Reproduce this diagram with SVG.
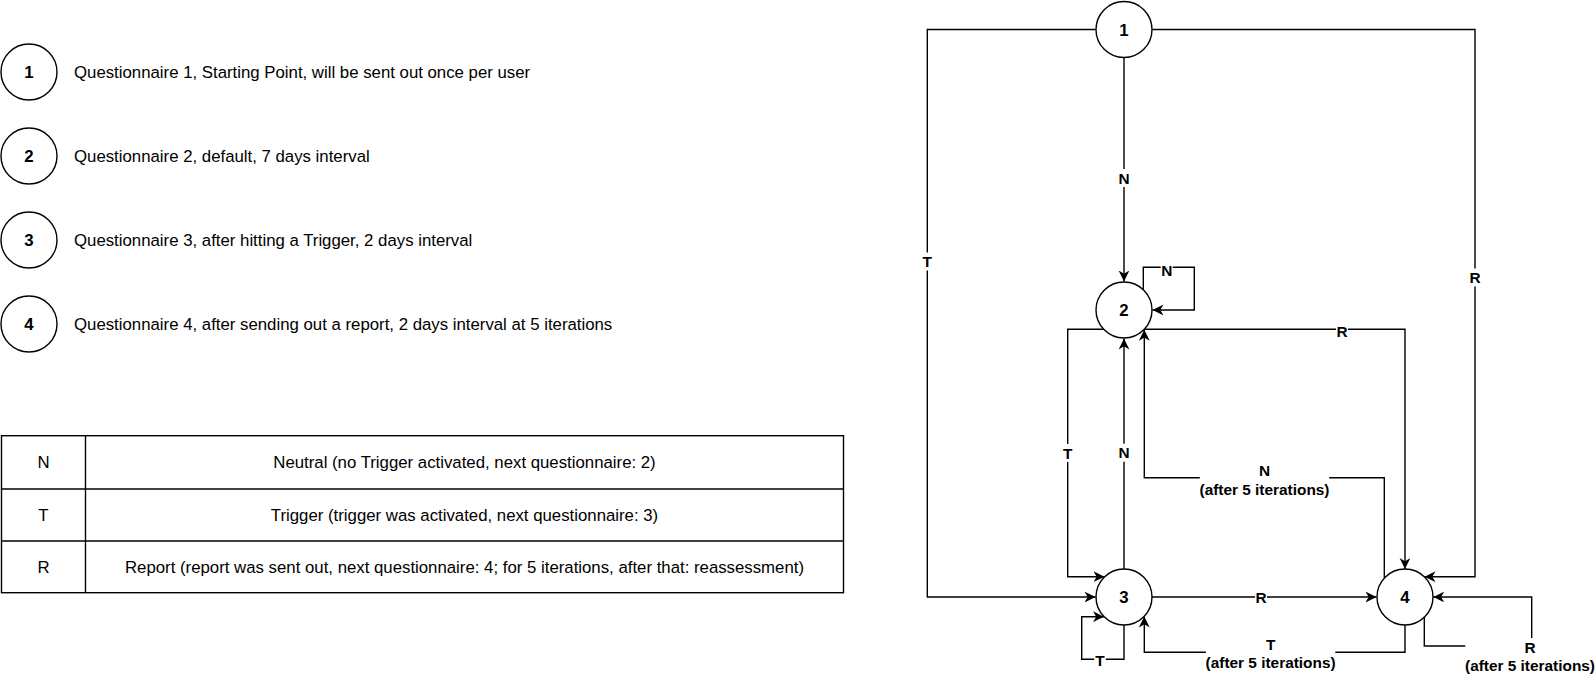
<svg xmlns="http://www.w3.org/2000/svg" width="1595" height="677" viewBox="0 0 1595 677">
<defs>
<style>
.bg{fill:#fff}
.node circle{fill:#fff;stroke:#000;stroke-width:1.4}
.nl{font-family:"Liberation Sans",Arial,Helvetica,sans-serif;font-weight:bold;font-size:16.8px;text-anchor:middle;fill:#000}
.lt{font-family:"Liberation Sans",Arial,Helvetica,sans-serif;font-size:16.8px;fill:#000}
.tc{text-anchor:middle}
.edges path{fill:none;stroke:#000;stroke-width:1.4}
.el{font-family:"Liberation Sans",Arial,Helvetica,sans-serif;font-weight:bold;font-size:15.4px;text-anchor:middle;fill:#000}
.tbl line,.tbl rect{fill:none;stroke:#000;stroke-width:1.4}
</style>
<marker id="arr" markerUnits="userSpaceOnUse" markerWidth="12" markerHeight="11" viewBox="0 0 12 11" refX="11" refY="5.4" orient="auto">
<path d="M0,0 L11,5.4 L0,10.8 L3.2,5.4 Z" fill="#000"/>
</marker>
</defs>
<rect width="1595" height="677" fill="#fff"/>

<!-- Legend -->
<g id="legend-1" class="node"><circle cx="29" cy="72" r="28"/><text class="nl" x="29" y="78">1</text><text class="lt" x="74" y="78">Questionnaire 1, Starting Point, will be sent out once per user</text></g>
<g id="legend-2" class="node"><circle cx="29" cy="156" r="28"/><text class="nl" x="29" y="162">2</text><text class="lt" x="74" y="162">Questionnaire 2, default, 7 days interval</text></g>
<g id="legend-3" class="node"><circle cx="29" cy="240" r="28"/><text class="nl" x="29" y="246">3</text><text class="lt" x="74" y="246">Questionnaire 3, after hitting a Trigger, 2 days interval</text></g>
<g id="legend-4" class="node"><circle cx="29" cy="324" r="28"/><text class="nl" x="29" y="330">4</text><text class="lt" x="74" y="330">Questionnaire 4, after sending out a report, 2 days interval at 5 iterations</text></g>

<!-- Table -->
<g id="table" class="tbl">
<rect x="1.5" y="435.7" width="842" height="157"/>
<line x1="1.5" y1="489" x2="843.5" y2="489"/>
<line x1="1.5" y1="541" x2="843.5" y2="541"/>
<line x1="85.5" y1="435.7" x2="85.5" y2="592.7"/>
<text class="lt tc" x="43.5" y="468.3">N</text>
<text class="lt tc" x="464.5" y="468.3">Neutral (no Trigger activated, next questionnaire: 2)</text>
<text class="lt tc" x="43.5" y="521">T</text>
<text class="lt tc" x="464.5" y="521">Trigger (trigger was activated, next questionnaire: 3)</text>
<text class="lt tc" x="43.5" y="573">R</text>
<text class="lt tc" x="464.5" y="573">Report (report was sent out, next questionnaire: 4; for 5 iterations, after that: reassessment)</text>
</g>

<!-- Connectors -->
<g id="connectors" class="edges">
<path d="M1124,57.5 V281.5" marker-end="url(#arr)"/>
<path d="M1095.5,29.5 H927.3 V597 H1095.5" marker-end="url(#arr)"/>
<path d="M1152.5,29.5 H1475 V576.7 H1424.5" marker-end="url(#arr)"/>
<path d="M1143.3,289.7 V267.3 H1194.3 V310 H1152.5" marker-end="url(#arr)"/>
<path d="M1103.7,329.3 H1067.7 V576.7 H1104.5" marker-end="url(#arr)"/>
<path d="M1144.3,329.3 H1405 V569" marker-end="url(#arr)"/>
<path d="M1124,569 V338.5" marker-end="url(#arr)"/>
<path d="M1152,597 H1376.5" marker-end="url(#arr)"/>
<path d="M1124,625 V659.3 H1081.7 V616.7 H1104" marker-end="url(#arr)"/>
<path d="M1384.3,577.8 V477.7 H1144.3 V329.8" marker-end="url(#arr)"/>
<path d="M1405,625 V652.3 H1144.3 V616.5" marker-end="url(#arr)"/>
<path d="M1424.3,616.5 V646 H1531.7 V597 H1433.3" marker-end="url(#arr)"/>

<rect class="bg" x="1118" y="169" width="12" height="18"/><text class="el" x="1124" y="183.5">N</text>
<rect class="bg" x="921.5" y="252.5" width="11.6" height="18"/><text class="el" x="927.3" y="267">T</text>
<rect class="bg" x="1469" y="268.5" width="12" height="18"/><text class="el" x="1475" y="283">R</text>
<rect class="bg" x="1160.7" y="261.7" width="12" height="18"/><text class="el" x="1166.7" y="276.2">N</text>
<rect class="bg" x="1061.9" y="444" width="11.6" height="18"/><text class="el" x="1067.7" y="458.5">T</text>
<rect class="bg" x="1336" y="322" width="12" height="18"/><text class="el" x="1342" y="336.5">R</text>
<rect class="bg" x="1118" y="443.7" width="12" height="18"/><text class="el" x="1124" y="458.2">N</text>
<rect class="bg" x="1255" y="588" width="12" height="18"/><text class="el" x="1261" y="602.5">R</text>
<rect class="bg" x="1094.2" y="651" width="11.6" height="18"/><text class="el" x="1100" y="665.5">T</text>

<rect class="bg" x="1199.8" y="461" width="129.4" height="37"/>
<text class="el" x="1264.5" y="476.2">N</text>
<text class="el" x="1264.5" y="494.7">(after 5 iterations)</text>
<rect class="bg" x="1205.9" y="635" width="129.4" height="37"/>
<text class="el" x="1270.6" y="649.5">T</text>
<text class="el" x="1270.6" y="668">(after 5 iterations)</text>
<rect class="bg" x="1465.3" y="638" width="129.4" height="37"/>
<text class="el" x="1530" y="652.5">R</text>
<text class="el" x="1530" y="671">(after 5 iterations)</text>
</g>

<!-- Nodes -->
<g id="node-1" class="node"><circle cx="1124" cy="29.5" r="28"/><text class="nl" x="1124" y="35.5">1</text></g>
<g id="node-2" class="node"><circle cx="1124" cy="310" r="28"/><text class="nl" x="1124" y="316">2</text></g>
<g id="node-3" class="node"><circle cx="1124" cy="597" r="28"/><text class="nl" x="1124" y="603">3</text></g>
<g id="node-4" class="node"><circle cx="1405" cy="597" r="28"/><text class="nl" x="1405" y="603">4</text></g>
</svg>
